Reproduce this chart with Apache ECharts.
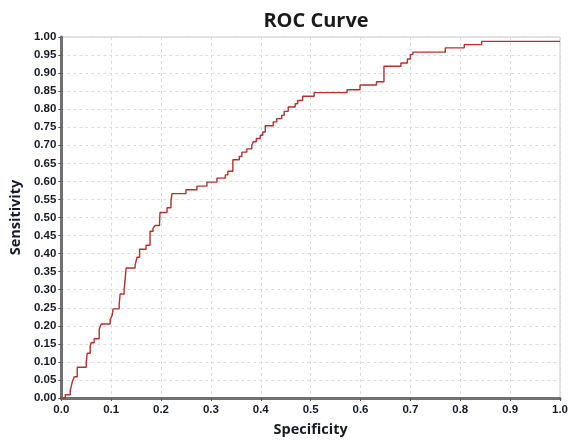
<!DOCTYPE html>
<html>
<head>
<meta charset="utf-8">
<script src="https://cdn.jsdelivr.net/npm/echarts@6/dist/echarts.min.js"></script>
<style>
html,body{margin:0;padding:0;background:#fff;}
#chart{width:571px;height:442px;}
</style>
</head>
<body>
<div id="chart"></div>
<script>
// ROC points: at each specificity value the curve steps up to the given sensitivity
const specificity = [0.000, 0.008, 0.018, 0.022, 0.026, 0.032, 0.050, 0.052, 0.058, 0.060,
  0.066, 0.076, 0.080, 0.098, 0.102, 0.104, 0.116, 0.118, 0.126, 0.128,
  0.130, 0.148, 0.152, 0.157, 0.170, 0.178, 0.184, 0.188, 0.197, 0.198,
  0.212, 0.220, 0.222, 0.250, 0.272, 0.292, 0.312, 0.329, 0.334, 0.344,
  0.357, 0.362, 0.372, 0.382, 0.385, 0.391, 0.399, 0.404, 0.409, 0.425,
  0.432, 0.442, 0.447, 0.455, 0.469, 0.474, 0.484, 0.507, 0.573, 0.599,
  0.632, 0.647, 0.681, 0.694, 0.700, 0.705, 0.770, 0.808, 0.843, 1.000];
const sensitivity = [0.000, 0.009, 0.021, 0.044, 0.059, 0.085, 0.098, 0.124, 0.144, 0.153,
  0.164, 0.190, 0.205, 0.217, 0.229, 0.247, 0.258, 0.288, 0.300, 0.328,
  0.360, 0.368, 0.390, 0.412, 0.423, 0.462, 0.470, 0.478, 0.484, 0.514,
  0.527, 0.547, 0.566, 0.577, 0.587, 0.598, 0.609, 0.618, 0.628, 0.660,
  0.669, 0.681, 0.690, 0.700, 0.710, 0.719, 0.728, 0.737, 0.754, 0.765,
  0.774, 0.783, 0.794, 0.806, 0.815, 0.824, 0.836, 0.846, 0.854, 0.867,
  0.876, 0.919, 0.928, 0.939, 0.952, 0.958, 0.970, 0.979, 0.988, 0.988];

const titleText = 'ROC Curve';
const xName = 'Specificity';
const yName = 'Sensitivity';

const data = specificity.map((x, i) => [x, sensitivity[i]]);
const textColor = '#151a26';

const chart = echarts.init(document.getElementById('chart'), null, {renderer: 'canvas'});
chart.setOption({
  animation: false,
  backgroundColor: '#ffffff',
  title: {
    text: titleText,
    left: 311, top: 6, textAlign: 'center',
    textStyle: {fontFamily: 'Open Sans', fontWeight: 'bold', fontSize: 20, color: '#1a1a1a'}
  },
  grid: {left: 61, right: 11, top: 37, bottom: 39, show: true, borderColor: '#c8c8c8', borderWidth: 1},
  xAxis: {
    type: 'value', min: 0, max: 1, interval: 0.1,
    name: xName, nameLocation: 'middle', nameGap: 24,
    nameTextStyle: {fontFamily: 'Open Sans', fontWeight: 'bold', fontSize: 14.5, color: textColor},
    axisLine: {show: true, onZero: false, lineStyle: {color: '#707070', width: 3}},
    axisTick: {show: true, length: 3, lineStyle: {color: '#555'}},
    axisLabel: {fontFamily: 'Liberation Sans', fontWeight: 'bold', fontSize: 11.5, color: textColor, margin: 6,
      formatter: v => v.toFixed(1)},
    splitLine: {show: true, lineStyle: {color: '#dcdcdc', type: [3, 3], width: 1}}
  },
  yAxis: {
    type: 'value', min: 0, max: 1, interval: 0.05,
    name: yName, nameLocation: 'middle', nameGap: 36,
    nameTextStyle: {fontFamily: 'Open Sans', fontWeight: 'bold', fontSize: 14.5, color: textColor},
    axisLine: {show: true, onZero: false, lineStyle: {color: '#707070', width: 3}},
    axisTick: {show: true, length: 3, lineStyle: {color: '#555'}},
    axisLabel: {fontFamily: 'Liberation Sans', fontWeight: 'bold', fontSize: 11.5, color: textColor, margin: 5,
      formatter: v => v.toFixed(2)},
    splitLine: {show: true, lineStyle: {color: '#dcdcdc', type: [3, 3], width: 1}}
  },
  series: [{
    type: 'line',
    data: data,
    step: 'end',
    showSymbol: false,
    symbol: 'none',
    lineStyle: {color: '#b3302e', width: 1.4},
    z: 3
  }]
});
</script>
</body>
</html>
